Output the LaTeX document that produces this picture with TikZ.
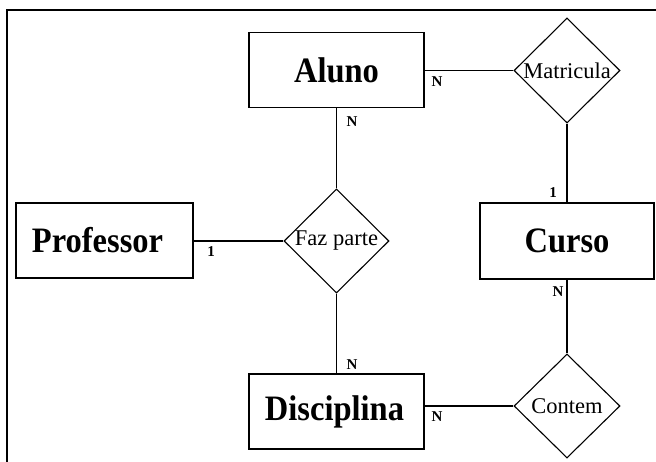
\documentclass[tikz,border=0pt]{standalone}
\usepackage{fontspec}
\setmainfont{Liberation Serif}
\usetikzlibrary{shapes.geometric}
\begin{document}
\begin{tikzpicture}[x=1pt,y=-1pt,
  entity/.style={draw,line width=1.1pt,minimum width=175pt,minimum height=75pt,inner sep=0pt,
    font=\fontsize{32.5}{34}\selectfont\bfseries},
  rel/.style={draw,diamond,aspect=1,line width=1.1pt,minimum width=106pt,minimum height=105pt,
    inner sep=0pt,font=\fontsize{22.5}{24}\selectfont},
  card/.style={inner sep=0pt,font=\fontsize{15}{16}\selectfont\bfseries},
  conn/.style={line width=1.1pt},
  frame/.style={line width=1.4pt}]
\useasboundingbox (0,0) rectangle (656,462);
\draw[frame] (7,462) -- (7,10) -- (656,10);

\node[entity] (aluno) at (336.5,70) {\scalebox{1}[1.1]{Aluno}};
\node[entity,minimum width=177pt] (prof) at (104.5,240.5) {\hspace*{-14pt}\scalebox{1}[1.1]{Professor}};
\node[entity,minimum width=174pt,minimum height=76pt] (curso) at (567,241) {\scalebox{1}[1.1]{Curso}};
\node[entity] (disc) at (336.5,411.5) {\hspace*{-4pt}\scalebox{1}[1.1]{Disciplina}};

\node[rel] (matr) at (567,70.5) {\makebox[0pt]{Matricula}};
\node[rel,minimum width=105pt,minimum height=104pt] (faz) at (336.5,241) {\makebox[0pt]{Faz parte}};
\node[rel,minimum height=104pt] (cont) at (567,406) {\makebox[0pt]{Contem}};

\draw[conn] (aluno.east |- matr.west) -- (matr.west);
\draw[conn] (aluno.south) -- (faz.north);
\draw[conn] (prof.east |- faz.west) -- (faz.west);
\draw[conn] (faz.south) -- (disc.north);
\draw[conn] (matr.south) -- (curso.north);
\draw[conn] (curso.south) -- (cont.north);
\draw[conn] (disc.east |- cont.west) -- (cont.west);

\node[card] (c1) at (437,82) {N};
\node[card] (c2) at (352,122) {N};
\node[card] (c3) at (211,252) {1};
\node[card] (c4) at (553,193) {1};
\node[card] (c5) at (558,292) {N};
\node[card] (c6) at (352,365) {N};
\node[card] (c7) at (437,417) {N};
\end{tikzpicture}
\end{document}
